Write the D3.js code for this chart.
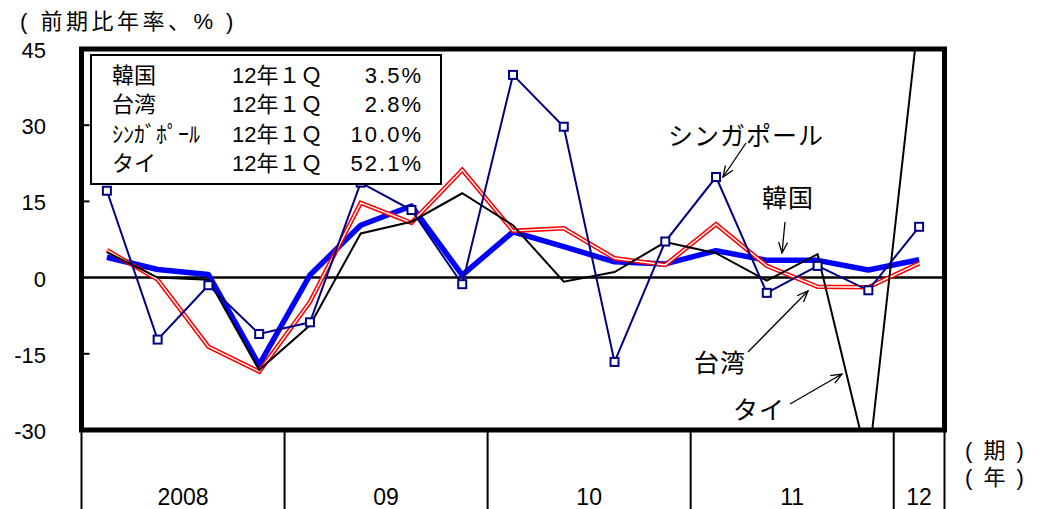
<!DOCTYPE html>
<html>
<head>
<meta charset="utf-8">
<script src="https://cdn.jsdelivr.net/npm/d3@7"></script>
<style>
  body { margin: 0; background: #fff; }
  svg text { font-family: "Liberation Sans", "Noto Sans CJK JP", sans-serif; fill: #000; }
</style>
</head>
<body>
<svg id="chart"></svg>
<script>
// Quarters 2008Q1 .. 2012Q1
const quarters = ["08Q1","08Q2","08Q3","08Q4","09Q1","09Q2","09Q3","09Q4",
  "10Q1","10Q2","10Q3","10Q4","11Q1","11Q2","11Q3","11Q4","12Q1"];

// Year groups on the category axis
const years = ["2008", "09", "10", "11", "12"];
const yearQuarters = [4, 4, 4, 4, 1];

// Series values (q/q annualised, %)
const korea     = [4.0, 1.6, 0.6, -17.2, 0.5, 10.3, 14.1, 0.5, 9.0, 6.1, 3.1, 2.7, 5.3, 3.4, 3.4, 1.5, 3.5];
const taiwan    = [5.4, -0.4, -13.6, -18.5, -4.8, 14.7, 10.8, 21.2, 9.2, 9.7, 3.8, 2.5, 10.5, 2.3, -1.8, -1.9, 2.8];
const singapore = [17.1, -12.2, -1.5, -11.1, -8.8, 18.7, 13.3, -1.3, 39.9, 29.7, -16.6, 7.1, 19.8, -3.0, 2.3, -2.5, 10.0];
const thailand  = [5.0, 0.0, -0.4, -18.2, -9.4, 8.7, 11.0, 16.6, 10.3, -0.8, 1.1, 7.0, 4.8, -0.6, 4.6, -36.8, 52.1];

// Y axis ticks
const yTicks = [45, 30, 15, 0, -15, -30];

// Legend box text
const legendNames = ["韓国", "台湾", "ｼﾝｶﾞﾎﾟｰﾙ", "タイ"];
const legendSeries = [korea, taiwan, singapore, thailand];
const legendPeriod = "12年１Ｑ";

const width = 1044, height = 509;
const plotLeft = 81.5, plotRight = 944.5, plotTop = 49, plotBottom = 430;

const svg = d3.select("#chart")
  .attr("width", width)
  .attr("height", height);

const x = d3.scaleBand()
  .domain(quarters)
  .range([plotLeft, plotRight])
  .padding(0);
const bw = x.bandwidth();
const cx = q => x(q) + bw / 2;

const y = d3.scaleLinear()
  .domain([-30, 45])
  .range([plotBottom, plotTop]);

// Arrow marker for annotations
const defs = svg.append("defs");
defs.append("marker")
  .attr("id", "arrow")
  .attr("markerUnits", "userSpaceOnUse")
  .attr("viewBox", "0 0 12 10")
  .attr("refX", 11).attr("refY", 5)
  .attr("markerWidth", 12).attr("markerHeight", 10)
  .attr("orient", "auto")
  .append("path")
  .attr("d", "M0,0.5 L11,5 L0,9.5")
  .attr("fill", "none")
  .attr("stroke", "#000")
  .attr("stroke-width", 1.3);

defs.append("clipPath")
  .attr("id", "plot-clip")
  .append("rect")
  .attr("x", plotLeft).attr("y", plotTop)
  .attr("width", plotRight - plotLeft).attr("height", plotBottom - plotTop);

// Title
svg.append("text")
  .attr("x", 20).attr("y", 29)
  .style("font-size", "22px")
  .style("letter-spacing", "3.5px")
  .text("( 前期比年率、% )");

// Y tick labels
svg.append("g").selectAll("text")
  .data(yTicks)
  .join("text")
  .attr("x", 46)
  .attr("y", d => y(d) + 9)
  .attr("text-anchor", "end")
  .style("font-size", "22px")
  .text(d => d);

// Inner ticks on left axis
svg.append("g").selectAll("line")
  .data(yTicks.filter(d => d !== 45 && d !== -30 && d !== 0))
  .join("line")
  .attr("x1", plotLeft).attr("x2", plotLeft + 8)
  .attr("y1", d => y(d)).attr("y2", d => y(d))
  .attr("stroke", "#000").attr("stroke-width", 2);

// Zero line
svg.append("line")
  .attr("x1", plotLeft).attr("x2", plotRight)
  .attr("y1", y(0)).attr("y2", y(0))
  .attr("stroke", "#000").attr("stroke-width", 2.5);

// Series lines
const line = d3.line()
  .x((d, i) => cx(quarters[i]))
  .y(d => y(d));

const plot = svg.append("g").attr("clip-path", "url(#plot-clip)");

plot.append("path").datum(korea)
  .attr("d", line).attr("fill", "none")
  .attr("stroke", "#0000ff").attr("stroke-width", 5.5)
  .attr("stroke-linejoin", "round");

plot.append("path").datum(taiwan)
  .attr("d", line).attr("fill", "none")
  .attr("stroke", "#ff0000").attr("stroke-width", 4.5);
plot.append("path").datum(taiwan)
  .attr("d", line).attr("fill", "none")
  .attr("stroke", "#fff").attr("stroke-width", 1.4);

plot.append("path").datum(thailand)
  .attr("d", line).attr("fill", "none")
  .attr("stroke", "#000").attr("stroke-width", 2);

plot.append("path").datum(singapore)
  .attr("d", line).attr("fill", "none")
  .attr("stroke", "#000080").attr("stroke-width", 2);

plot.append("g").selectAll("rect")
  .data(singapore)
  .join("rect")
  .attr("x", (d, i) => cx(quarters[i]) - 4)
  .attr("y", d => y(d) - 4)
  .attr("width", 8).attr("height", 8)
  .attr("fill", "#fff")
  .attr("stroke", "#000080").attr("stroke-width", 2);

// Plot border
svg.append("rect")
  .attr("x", plotLeft).attr("y", plotTop)
  .attr("width", plotRight - plotLeft).attr("height", plotBottom - plotTop)
  .attr("fill", "none")
  .attr("stroke", "#000").attr("stroke-width", 5);

// Legend box
const lgX = 91, lgY = 55, lgW = 350, lgH = 129;
svg.append("rect")
  .attr("x", lgX).attr("y", lgY)
  .attr("width", lgW).attr("height", lgH)
  .attr("fill", "#fff")
  .attr("stroke", "#000").attr("stroke-width", 2);

const lg = svg.append("g").style("font-size", "22px");
legendNames.forEach((name, i) => {
  const ty = 83 + i * 29.3;
  lg.append("text").attr("x", 112).attr("y", ty).text(name);
  lg.append("text").attr("x", 232).attr("y", ty).text(legendPeriod);
  const last = legendSeries[i][legendSeries[i].length - 1];
  lg.append("text")
    .attr("x", 423).attr("y", ty)
    .attr("text-anchor", "end")
    .style("letter-spacing", "2px")
    .text(last.toFixed(1) + "%");
});

// Category axis: year separators and labels
let acc = 0;
const bounds = [0];
yearQuarters.forEach(n => { acc += n; bounds.push(acc); });

svg.append("g").selectAll("line")
  .data(bounds)
  .join("line")
  .attr("x1", d => plotLeft + d * bw).attr("x2", d => plotLeft + d * bw)
  .attr("y1", plotBottom).attr("y2", height)
  .attr("stroke", "#000").attr("stroke-width", 2);

svg.append("g").selectAll("text")
  .data(years)
  .join("text")
  .attr("x", (d, i) => plotLeft + (bounds[i] + bounds[i + 1]) / 2 * bw)
  .attr("y", 505)
  .attr("text-anchor", "middle")
  .style("font-size", "23px")
  .text(d => d);

svg.append("text")
  .attr("x", 965).attr("y", 458)
  .style("font-size", "22px")
  .style("letter-spacing", "2.5px")
  .text("( 期 )");
svg.append("text")
  .attr("x", 965).attr("y", 485)
  .style("font-size", "22px")
  .style("letter-spacing", "2.5px")
  .text("( 年 )");

// Annotations
const annotations = [
  { text: "シンガポール", tx: 668, ty: 145, x1: 746, y1: 143, x2: 723, y2: 177 },
  { text: "韓国", tx: 762, ty: 207, x1: 785, y1: 222, x2: 782, y2: 253 },
  { text: "台湾", tx: 694, ty: 372, x1: 748, y1: 352, x2: 808, y2: 291 },
  { text: "タイ", tx: 733, ty: 419, x1: 790, y1: 404, x2: 842, y2: 374 }
];

const ann = svg.append("g");
ann.selectAll("text")
  .data(annotations)
  .join("text")
  .attr("x", d => d.tx).attr("y", d => d.ty)
  .style("font-size", "25px")
  .style("letter-spacing", "1px")
  .text(d => d.text);

ann.selectAll("line")
  .data(annotations)
  .join("line")
  .attr("x1", d => d.x1).attr("y1", d => d.y1)
  .attr("x2", d => d.x2).attr("y2", d => d.y2)
  .attr("stroke", "#000").attr("stroke-width", 1.3)
  .attr("marker-end", "url(#arrow)");
</script>
</body>
</html>
